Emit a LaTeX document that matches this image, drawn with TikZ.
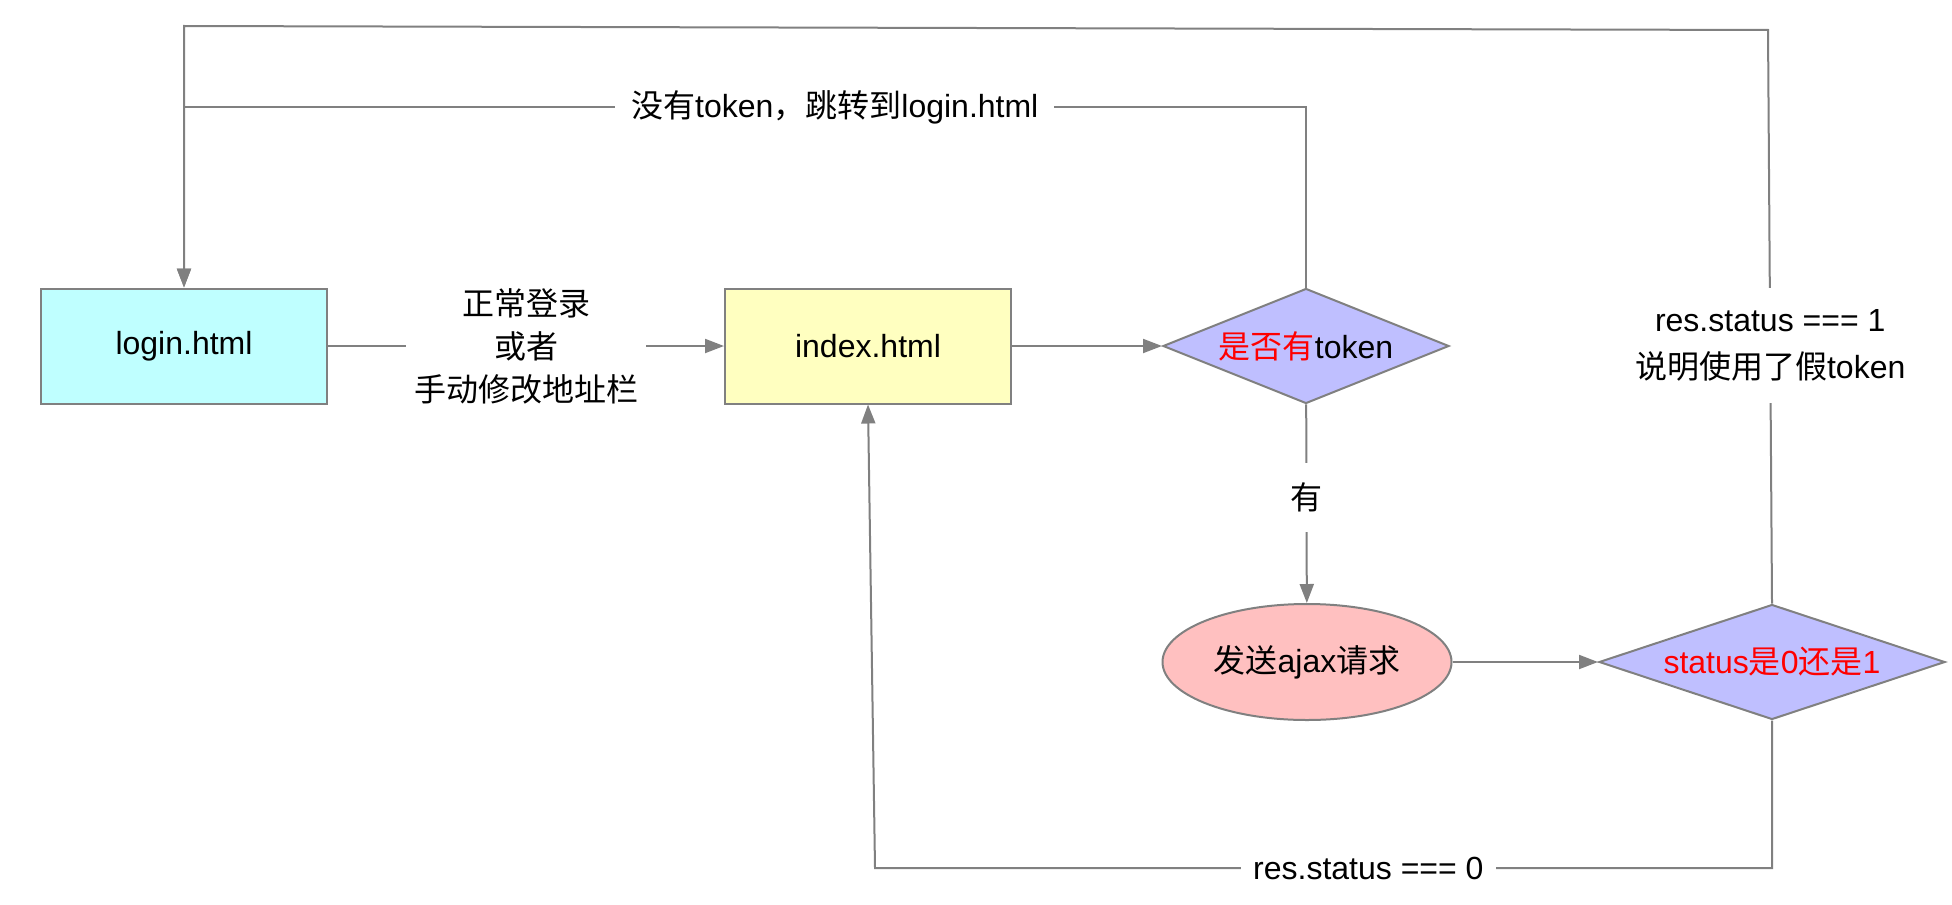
\documentclass[tikz,border=0pt]{standalone}
\usepackage{fontspec}
\setmainfont{Liberation Sans}
\newfontfamily\cjk{Noto Sans CJK SC}
\usetikzlibrary{shapes.geometric, arrows.meta, positioning, calc}
\definecolor{linegray}{RGB}{128, 128, 128}
\definecolor{logincyan}{RGB}{191, 255, 255}
\definecolor{indexyellow}{RGB}{255, 255, 192}
\definecolor{checkblue}{RGB}{191, 191, 255}
\definecolor{ajaxpink}{RGB}{255, 192, 192}
\definecolor{hotred}{RGB}{255, 0, 0}

\begin{document}
\begin{tikzpicture}[x=0.5pt, y=-0.5pt,
  font=\fontsize{16pt}{19pt}\selectfont,
  pagebox/.style={draw=linegray, line width=1pt, minimum width=143pt, minimum height=57.5pt, inner sep=0pt},
  checkbox/.style={diamond, aspect=3, draw=linegray, fill=checkblue, line width=1pt, inner sep=0pt, minimum height=57.5pt},
  flow/.style={draw=linegray, line width=1pt, -{Triangle[length=9.5pt, width=7pt]}},
  gap/.style={fill=white, inner xsep=6pt, inner ysep=8pt, align=center}]
  \useasboundingbox (0,0) rectangle (1952,904);

  % Pages
  \node[pagebox, fill=logincyan] (login) at (184,346) {login.html};
  \node[pagebox, fill=indexyellow] (index) at (868,346) {index.html};

  % Checks
  \node[checkbox, minimum width=143pt] (hastoken) at (1306,346) {{\cjk\color{hotred}是否有}token};
  \node[ellipse, draw=linegray, fill=ajaxpink, line width=1pt, minimum width=144.5pt, minimum height=58pt, inner sep=0pt] (ajax) at (1307,662) {{\cjk 发送}ajax{\cjk 请求}};
  \node[checkbox, minimum width=173pt, text=hotred] (status) at (1772,662) {status{\cjk 是}0{\cjk 还是}1};

  % Bends
  \coordinate (topL) at (184,26);
  \coordinate (topR) at (1768,30);
  \coordinate (midL) at (184,107);
  \coordinate (botL) at (875,868);

  % Main flow
  \draw[flow] (login) -- node[gap, inner xsep=4pt, font=\fontsize{16pt}{21.5pt}\selectfont]{\cjk 正常登录\\\cjk 或者\\\cjk 手动修改地址栏} (index);
  \draw[flow] (index) -- (hastoken);
  \draw[flow] (hastoken) -- node[gap, pos=0.47, inner ysep=10pt]{\cjk 有} (ajax);
  \draw[flow] (ajax) -- (status);

  % Back to login
  \draw[flow] (hastoken.north) |- node[gap, pos=0.71, inner xsep=8pt]{{\cjk 没有}token{\cjk ，跳转到}login.html} (midL) -- (login.north);
  \draw[flow] (status.north) -- node[gap, pos=0.45, inner ysep=11pt, font=\fontsize{16pt}{23.5pt}\selectfont]{res.status === 1\\{\cjk 说明使用了假}token} (topR) -- (topL) -- (login.north);

  % Back to index
  \draw[flow] (status.south) |- node[gap, pos=0.725]{res.status === 0} (botL) -- (index.south);
\end{tikzpicture}
\end{document}
